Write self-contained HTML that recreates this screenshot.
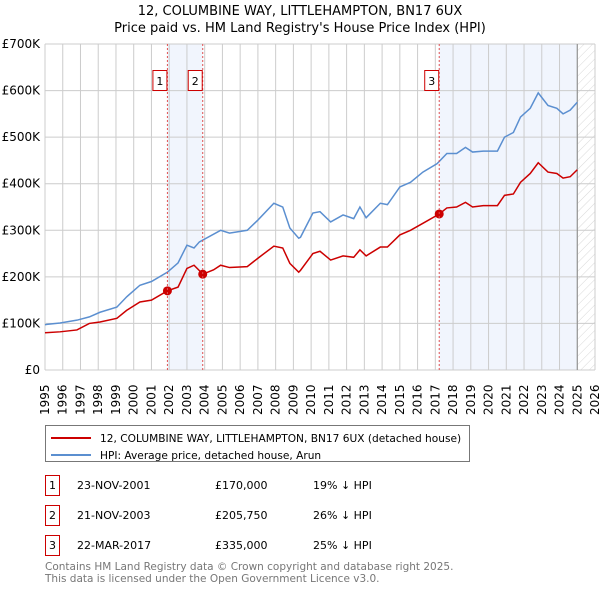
<!DOCTYPE html>
<html><head><meta charset="utf-8"><style>
body{margin:0;background:#fff;width:600px;height:590px;overflow:hidden;font-family:"DejaVu Sans","Liberation Sans",sans-serif;}
svg text{font-family:"DejaVu Sans","Liberation Sans",sans-serif;}
</style></head><body>
<svg id="chart" width="600" height="590" xmlns="http://www.w3.org/2000/svg">
<defs><pattern id="hatch" width="6" height="6" patternUnits="userSpaceOnUse" patternTransform="rotate(45)"><line x1="0" y1="0" x2="0" y2="6" stroke="#d8d8d8" stroke-width="1"/></pattern></defs>
<text x="300" y="15" font-size="13" text-anchor="middle" fill="#000">12, COLUMBINE WAY, LITTLEHAMPTON, BN17 6UX</text>
<text x="300" y="32" font-size="13" text-anchor="middle" fill="#000">Price paid vs. HM Land Registry's House Price Index (HPI)</text>
<g id="bg"></g><g id="grid"></g><g id="lines"></g><g id="marks"></g><g id="axes"></g>
<g>
<rect x="45.5" y="425.5" width="424" height="36" fill="#fff" stroke="#777"/>
<line x1="51" y1="438" x2="91" y2="438" stroke="#cc0000" stroke-width="2"/>
<text x="100" y="442" font-size="10.6">12, COLUMBINE WAY, LITTLEHAMPTON, BN17 6UX (detached house)</text>
<line x1="51" y1="455" x2="91" y2="455" stroke="#5b8fd0" stroke-width="2"/>
<text x="100" y="459" font-size="10.6">HPI: Average price, detached house, Arun</text>
</g>
<g font-size="11">
<rect x="45.5" y="475.5" width="14" height="20" fill="#fff" stroke="#cc0000"/><text x="52.5" y="489" text-anchor="middle">1</text>
<text x="77" y="489">23-NOV-2001</text><text x="215" y="489">£170,000</text><text x="313" y="489">19% ↓ HPI</text>
<rect x="45.5" y="505.5" width="14" height="20" fill="#fff" stroke="#cc0000"/><text x="52.5" y="519" text-anchor="middle">2</text>
<text x="77" y="519">21-NOV-2003</text><text x="215" y="519">£205,750</text><text x="313" y="519">26% ↓ HPI</text>
<rect x="45.5" y="535.5" width="14" height="20" fill="#fff" stroke="#cc0000"/><text x="52.5" y="549" text-anchor="middle">3</text>
<text x="77" y="549">22-MAR-2017</text><text x="215" y="549">£335,000</text><text x="313" y="549">25% ↓ HPI</text>
</g>
<text x="45" y="570" font-size="10.5" fill="#777">Contains HM Land Registry data © Crown copyright and database right 2025.</text>
<text x="45" y="582" font-size="10.5" fill="#777">This data is licensed under the Open Government Licence v3.0.</text>
</svg>
<script>
const hpiYears=[1995.0,1995.1,1995.85,1996.8,1997.5,1998.1,1999.05,1999.6,2000.35,2001.0,2001.9,2002.5,2003.0,2003.4,2003.7,2004.9,2005.4,2006.4,2007.0,2007.9,2008.4,2008.8,2009.3,2009.4,2010.1,2010.5,2011.1,2011.8,2012.4,2012.75,2013.1,2013.9,2014.3,2015.0,2015.6,2016.3,2017.1,2017.65,2018.2,2018.7,2019.1,2019.7,2020.5,2020.9,2021.4,2021.8,2022.35,2022.8,2023.35,2023.85,2024.2,2024.6,2025.0];
const hpiValues=[97,98,101,107,114,124,135,157,182,190,210,230,268,262,275,300,294,300,322,358,350,305,283,285,337,340,318,333,325,350,327,358,355,393,403,425,443,465,465,478,468,470,470,500,510,543,562,595,568,562,550,558,575];
const priceYears=[1995.0,1995.85,1996.8,1997.5,1998.1,1999.05,1999.6,2000.35,2001.0,2001.9,2002.5,2003.0,2003.4,2003.9,2004.5,2004.9,2005.4,2006.4,2007.0,2007.9,2008.4,2008.8,2009.3,2009.4,2010.1,2010.5,2011.1,2011.8,2012.4,2012.75,2013.1,2013.9,2014.3,2015.0,2015.6,2016.3,2017.22,2017.65,2018.2,2018.7,2019.1,2019.7,2020.5,2020.9,2021.4,2021.8,2022.35,2022.8,2023.35,2023.85,2024.2,2024.6,2025.0];
const priceValues=[80,82,86,100,103,111,128,146,150,170,178,218,225,205.75,215,225,220,222,240,266,262,229,210,214,250,255,236,245,242,258,245,264,264,290,300,315,335,348,350,360,350,353,353,375,378,403,422,445,425,422,412,415,430];
const saleYears=[2001.9,2003.89,2017.22];
const saleValues=[170,205.75,335];
const saleLabels=["1","2","3"];
const yTicks=[0,100,200,300,400,500,600,700];
const yTickLabels=["£0","£100K","£200K","£300K","£400K","£500K","£600K","£700K"];
const xTicks=[1995,1996,1997,1998,1999,2000,2001,2002,2003,2004,2005,2006,2007,2008,2009,2010,2011,2012,2013,2014,2015,2016,2017,2018,2019,2020,2021,2022,2023,2024,2025,2026];
const dataEnd=2025.0;
const L=45,R=595,T=44,B=370;
const X=y=>L+(y-1995)/(2026-1995)*(R-L);
const Y=v=>B-v/700*(B-T);
const NS="http://www.w3.org/2000/svg";
function mk(tag,attrs,parent){const e=document.createElementNS(NS,tag);for(const k in attrs)e.setAttribute(k,attrs[k]);document.getElementById(parent).appendChild(e);return e;}
let s=mk('rect',{x:X(saleYears[0]),y:T,width:X(saleYears[1])-X(saleYears[0]),height:B-T,fill:'#eef3fc',opacity:0.8},'bg');


s=mk('rect',{x:X(saleYears[2]),y:T,width:X(dataEnd)-X(saleYears[2]),height:B-T,fill:'#eef3fc',opacity:0.8},'bg');


s=mk('rect',{x:X(dataEnd),y:T,width:R-X(dataEnd),height:B-T,fill:'url(#hatch)'},'bg');


xTicks.forEach(t=>{const g=mk('line',{x1:X(t),x2:X(t),y1:T,y2:B,stroke:'#ccc','stroke-width':1},'grid');


const tx=mk('text',{transform:`translate(${X(t)+4},415) rotate(-90)`,'font-size':12,fill:'#000'},'axes');tx.textContent=t;

});
yTicks.forEach((t,i)=>{const g=mk('line',{x1:L,x2:R,y1:Y(t),y2:Y(t),stroke:'#ccc','stroke-width':1},'grid');


const tx=mk('text',{x:40,y:Y(t)+4,'font-size':12,'text-anchor':'end',fill:'#000'},'axes');tx.textContent=yTickLabels[i];

});
let e=mk('line',{x1:X(dataEnd),x2:X(dataEnd),y1:T,y2:B,stroke:'#888','stroke-width':1},'grid');


saleYears.forEach((sy,i)=>{const d=mk('line',{x1:X(sy),x2:X(sy),y1:T,y2:B,stroke:'#e05050','stroke-width':1,'stroke-dasharray':'2,2'},'marks');


const b=mk('rect',{x:X(sy)-14.5,y:70.5,width:14,height:20,fill:'#fff',stroke:'#cc0000'},'marks');


const t=mk('text',{x:X(sy)-7.5,y:85,'font-size':11,'text-anchor':'middle'},'marks');t.textContent=saleLabels[i];

});
let p=mk('polyline',{points:hpiYears.map((y,i)=>X(y)+','+Y(hpiValues[i])).join(' '),fill:'none',stroke:'#5b8fd0','stroke-width':1.5},'lines');


p=mk('polyline',{points:priceYears.map((y,i)=>X(y)+','+Y(priceValues[i])).join(' '),fill:'none',stroke:'#cc0000','stroke-width':1.5},'lines');


saleYears.forEach((sy,i)=>{const c=mk('circle',{cx:X(sy),cy:Y(saleValues[i]),r:4.5,fill:'#cc0000'},'lines');

});
</script>
</body></html>
